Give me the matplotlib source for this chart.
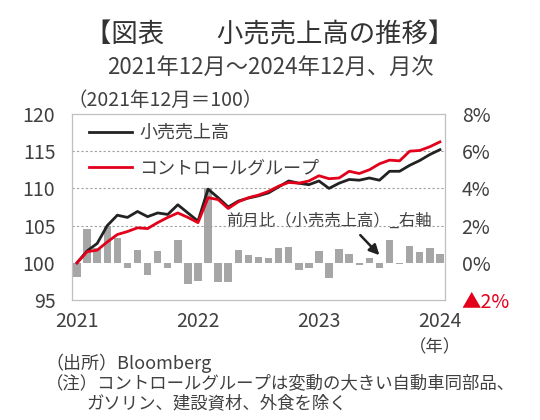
import matplotlib
matplotlib.use("Agg")
import matplotlib.pyplot as plt
import numpy as np

plt.rcParams['font.family'] = ['Noto Sans CJK JP', 'DejaVu Sans']

# Dec 2021 .. Dec 2024, monthly (index 0 = Dec 2021)
retail = [100.0, 101.6, 102.6, 105.0, 106.4, 106.1, 106.9, 106.2, 106.7, 106.5,
          107.8, 106.7, 105.6, 109.9, 108.75, 107.5, 108.3, 108.7, 109.0, 109.4,
          110.2, 111.0, 110.7, 110.5, 111.0, 110.0, 110.7, 111.2, 111.1, 111.4,
          111.1, 112.3, 112.3, 113.1, 113.75, 114.55, 115.2]
control = [100.0, 101.5, 101.7, 102.8, 103.8, 104.2, 104.7, 104.6, 105.4, 106.1,
           106.7, 106.1, 105.4, 108.75, 108.5, 107.3, 108.2, 108.75, 109.1, 109.6,
           110.3, 110.8, 110.7, 111.0, 111.7, 111.3, 111.4, 112.3, 112.0, 112.5,
           113.3, 113.8, 113.7, 115.0, 115.1, 115.6, 116.25]
mom = [-0.79, 1.84, 0.8, 2.0, 1.36, -0.3, 0.71, -0.66, 0.63, -0.27,
       1.25, -1.14, -1.0, 4.0, -1.05, -1.05, 0.71, 0.44, 0.3, 0.28,
       0.81, 0.86, -0.37, -0.3, 0.64, -0.84, 0.72, 0.46, -0.1, 0.24,
       -0.26, 1.22, -0.07, 0.91, 0.57, 0.78, 0.45]
year_labels = ['2021', '2022', '2023', '2024']
year_pos = [0, 12, 24, 36]
left_ticks = [95, 100, 105, 110, 115, 120]
right_ticks = [-2, 0, 2, 4, 6, 8]
right_labels = ['▲2%', '0%', '2%', '4%', '6%', '8%']

x = np.arange(len(retail))
txt = '#404040'
red = '#e3001b'

fig = plt.figure(figsize=(5.4, 4.2), dpi=100)
ax = fig.add_axes([0.1333, 0.2857, 0.6907, 0.4429])
ax2 = ax.twinx()

ax2.bar(x, mom, width=0.74, color='#a6a6a6', zorder=2)
ax2.set_ylim(-2, 8)
ax2.set_yticks(right_ticks)
ax2.set_yticklabels(right_labels)

for y in [105, 110, 115]:
    ax.axhline(y, color='#a0a0a0', lw=0.8, ls=(0, (2, 2)), zorder=1)
ax.plot(x, retail, color='#222222', lw=2.0, label='小売売上高', zorder=3)
ax.plot(x, control, color=red, lw=2.0, label='コントロールグループ', zorder=4)
ax.set_ylim(95, 120)
ax.set_yticks(left_ticks)
ax.set_xlim(-0.5, 36.5)
ax.set_xticks(year_pos)
ax.set_xticklabels(year_labels)
ax.set_zorder(ax2.get_zorder() + 1)
ax.patch.set_visible(False)

for a in (ax, ax2):
    a.tick_params(length=0, labelsize=14, colors=txt)
    for s in a.spines.values():
        s.set_color('#bfbfbf')
        s.set_linewidth(0.8)
ax.tick_params(axis='x', pad=8)
ax.tick_params(axis='y', pad=12)
ax2.tick_params(axis='y', pad=12)
ax2.get_yticklabels()[0].set_color(red)

leg = ax.legend(loc='upper left', frameon=False, fontsize=13, handlelength=2.4,
                labelspacing=0.95, borderaxespad=0.0, handletextpad=0.4,
                bbox_to_anchor=(0.025, 0.985))
for t in leg.get_texts():
    t.set_color(txt)

ax2.text(35.2, 2.24, '前月比（小売売上高）_右軸', ha='right', va='center',
         fontsize=11.8, color=txt, zorder=6)
ax2.annotate('', xy=(30, 0.41), xytext=(28.1, 1.49),
             arrowprops=dict(arrowstyle='-|>', color='#222222', lw=1.8,
                             shrinkA=0, shrinkB=0, mutation_scale=15),
             zorder=6)

fig.text(0.5, 0.917, '【図表　　小売売上高の推移】', ha='center', va='center',
         fontsize=19, color='#333333')
fig.text(0.5, 0.84, '2021年12月～2024年12月、月次', ha='center', va='center',
         fontsize=16, color=txt)
fig.text(0.125, 0.762, '（2021年12月＝100）', ha='left', va='center',
         fontsize=14, color=txt)
fig.text(0.758, 0.172, '（年）', ha='left', va='center', fontsize=12.5, color=txt)
fig.text(0.085, 0.135, '（出所）Bloomberg', ha='left', va='center', fontsize=13, color=txt)
fig.text(0.085, 0.087, '（注）コントロールグループは変動の大きい自動車同部品、',
         ha='left', va='center', fontsize=12.5, color=txt)
fig.text(0.16, 0.040, 'ガソリン、建設資材、外食を除く', ha='left', va='center',
         fontsize=12.5, color=txt)

fig.savefig('out.png', dpi=100)
